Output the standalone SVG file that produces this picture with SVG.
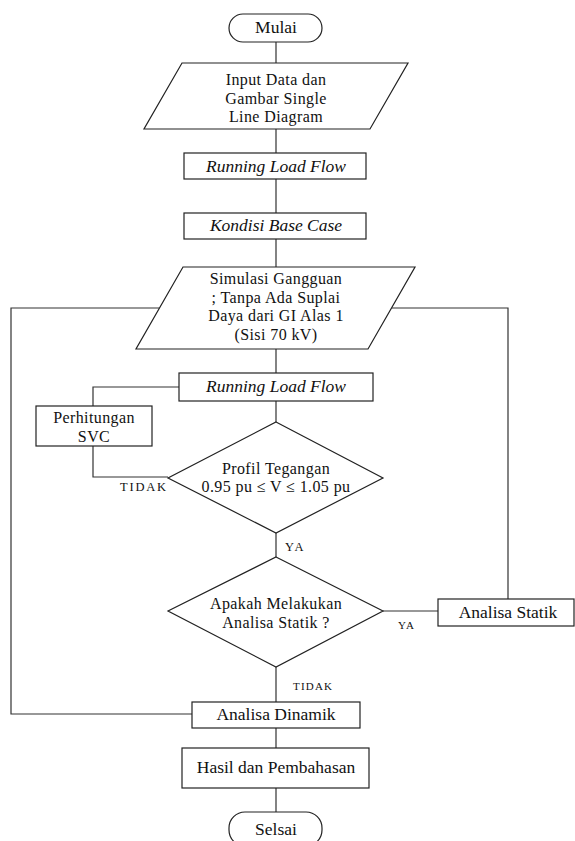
<svg xmlns="http://www.w3.org/2000/svg" width="575" height="841" viewBox="0 0 575 841">
<style>
.s{fill:#fff;stroke:#222;stroke-width:1.2}
.c{fill:none;stroke:#333;stroke-width:1.2}
text{font-family:"Liberation Serif","Times New Roman",serif;font-size:17.5px;fill:#111;text-anchor:middle}
.t{font-size:16px;letter-spacing:0.4px}
.i{font-style:italic}
.l{font-size:12.5px;letter-spacing:1.8px;text-anchor:start}
.m{font-size:11px;letter-spacing:1.2px}
</style>
<rect width="575" height="841" fill="#fff"/>
<g id="connectors">
<path class="c" d="M276,42V63M276,129V153M276,179V213M276,239V267M276,349V373M276,401V422M276,533V557M276,667V702M276,728V748M276,788V812"/>
<path class="c" d="M179,387H93V406M93,446V477H168"/>
<path class="c" d="M383,611H438"/>
<path class="c" d="M508,599V308H391.5"/>
<path class="c" d="M159.5,308H11V714H192"/>
</g>
<g id="mulai"><rect class="s" x="229" y="14" width="93" height="28" rx="14"/><text x="276" y="33">Mulai</text></g>
<g id="input"><polygon class="s" points="182,63 408,63 370,129 144,129"/><text class="t" x="276" y="85">Input Data dan</text><text class="t" x="276" y="103.5">Gambar Single</text><text class="t" x="276" y="122">Line Diagram</text></g>
<g id="rlf1"><rect class="s" x="184" y="153" width="182" height="26"/><text class="i" x="276" y="172">Running Load Flow</text></g>
<g id="basecase"><rect class="s" x="184" y="213" width="182" height="26"/><text class="i" x="276" y="231">Kondisi Base Case</text></g>
<g id="simulasi"><polygon class="s" points="183,267 415,267 368,349 136,349"/><text class="t" x="276" y="284">Simulasi Gangguan</text><text class="t" x="276" y="302.5">; Tanpa Ada Suplai</text><text class="t" x="276" y="321">Daya dari GI Alas 1</text><text class="t" x="276" y="339.5">(Sisi 70 kV)</text></g>
<g id="rlf2"><rect class="s" x="179" y="373" width="194" height="28"/><text class="i" x="276" y="392">Running Load Flow</text></g>
<g id="svc"><rect class="s" x="36" y="406" width="116" height="40"/><text class="t" x="94" y="423">Perhitungan</text><text class="t" x="94" y="442">SVC</text></g>
<g id="profil"><polygon class="s" points="276,422 383,478 276,533 168,478"/><text class="t" x="276" y="473.5">Profil Tegangan</text><text class="t" x="276" y="492">0.95 pu  ≤ V ≤  1.05 pu</text></g>
<g id="apakah"><polygon class="s" points="276,557 383,611 276,667 168,611"/><text class="t" x="276" y="609">Apakah Melakukan</text><text class="t" x="276" y="627.5">Analisa Statik ?</text></g>
<g id="statik"><rect class="s" x="438" y="599" width="136" height="27"/><text x="508" y="618">Analisa Statik</text></g>
<g id="dinamik"><rect class="s" x="192" y="702" width="168" height="26"/><text x="276" y="720">Analisa Dinamik</text></g>
<g id="hasil"><rect class="s" x="182" y="748" width="187" height="40"/><text x="276" y="773">Hasil dan Pembahasan</text></g>
<g id="selsai"><rect class="s" x="229" y="812" width="93" height="34" rx="16"/><text x="276" y="835">Selsai</text></g>
<g id="labels">
<text class="l" x="120" y="491">TIDAK</text>
<text class="l" x="285" y="551">YA</text>
<text class="l m" x="398" y="629">YA</text>
<text class="l m" x="293" y="690">TIDAK</text>
</g>
</svg>
